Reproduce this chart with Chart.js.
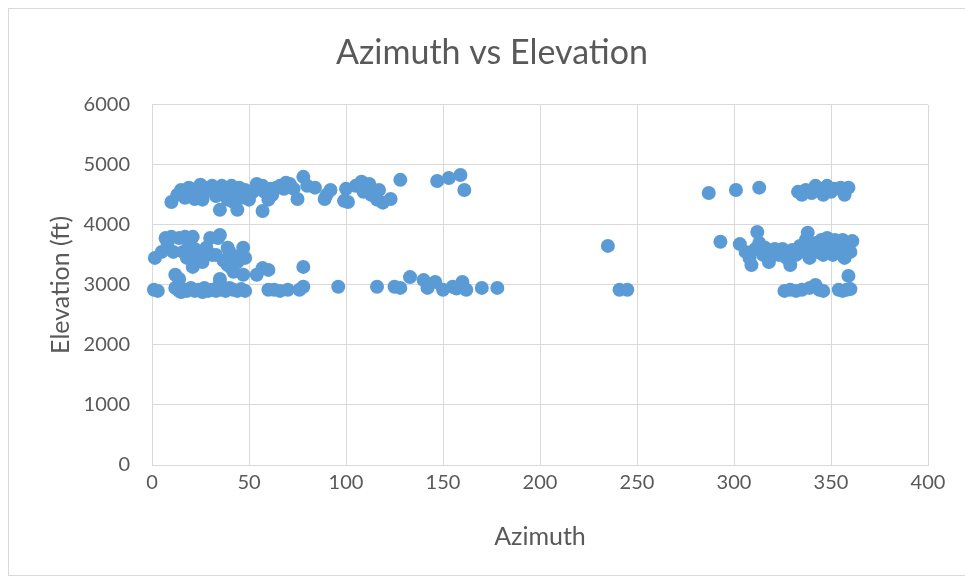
<!DOCTYPE html>
<html>
<head>
<meta charset="utf-8">
<script src="https://cdn.jsdelivr.net/npm/chart.js@4.4.0/dist/chart.umd.min.js"></script>
<style>
  html, body { margin: 0; padding: 0; background: #fff; overflow: hidden; }
  #frame { position: absolute; left: 8px; top: 8px; width: 966px; height: 566px; border: 1px solid #d9d9d9; }
</style>
</head>
<body>
<div id="frame"><canvas id="myChart" width="966" height="566"></canvas></div>
<script>
// azimuth (deg) and elevation (ft)
var azimuth = [
	// upper band, left
	10, 13, 15, 17, 19, 20, 22, 23, 25, 26, 27, 29, 31, 33, 34, 35, 36, 38, 39, 41,
	42, 43, 44, 45, 46, 48, 49, 50, 52, 54, 55, 57, 57, 58, 60, 61, 62, 64, 66, 68,
	69, 71, 73, 75, 78, 80, 84, 89, 90, 92, 99, 100, 101, 105, 108, 109, 112, 113, 116, 117,
	119, 123, 128, 147, 153, 159, 161,
	// middle band, left
	1.5, 5, 7, 8, 10, 11, 12, 14, 14, 16, 17, 18, 19, 21, 21, 22, 23, 25, 26, 28,
	30, 31, 33, 34, 35, 35, 37, 39, 39, 40, 41, 42, 43, 44, 46, 47, 47, 48, 54, 57,
	60, 78,
	// lower band, left
	1, 3, 12, 14, 15, 17, 18, 20, 22, 24, 26, 27, 29, 31, 33, 35, 36, 38, 40, 42,
	44, 46, 48, 60, 63, 66, 70, 76, 78, 96, 116, 125, 128, 133, 140, 142, 146, 150, 155, 157,
	160, 162, 170, 178,
	// middle
	235, 241, 245,
	// upper band, right
	287, 301, 313, 333, 335, 337, 340, 342, 344, 346, 348, 350, 352, 355, 357, 359,
	// middle band, right
	293, 303, 306, 308, 309, 311, 312, 313, 315, 316, 318, 319, 321, 323, 325, 327, 329, 330, 332, 334,
	336, 337, 338, 339, 340, 342, 343, 345, 346, 347, 348, 350, 351, 352, 354, 355, 356, 357, 358, 359,
	360, 361,
	// lower band, right
	326, 329, 332, 335, 339, 342, 344, 346, 354, 356, 358, 360, 359
];

var elevation = [
	4380, 4500, 4580, 4450, 4620, 4500, 4430, 4600, 4670, 4420, 4550, 4620, 4650, 4480, 4580, 4250, 4650, 4550, 4420, 4650,
	4380, 4500, 4250, 4620, 4450, 4580, 4500, 4420, 4550, 4680, 4600, 4230, 4650, 4550, 4420, 4600, 4500, 4620, 4650, 4600,
	4700, 4680, 4600, 4430, 4800, 4650, 4620, 4430, 4500, 4580, 4400, 4600, 4380, 4650, 4720, 4550, 4680, 4500, 4420, 4580,
	4370, 4430, 4750, 4730, 4780, 4830, 4580,

	3450, 3550, 3780, 3700, 3800, 3550, 3170, 3780, 3100, 3550, 3800, 3450, 3700, 3800, 3300, 3600, 3500, 3550, 3380, 3620,
	3780, 3500, 3500, 3780, 3830, 3100, 3400, 3620, 3330, 3550, 3280, 3220, 3450, 3380, 3500, 3620, 3170, 3450, 3170, 3280,
	3250, 3300,

	2920, 2900, 2950, 2900, 2880, 2920, 2900, 2950, 2900, 2920, 2880, 2950, 2900, 2920, 2900, 3030, 2920, 2900, 2950, 2920,
	2900, 2930, 2900, 2920, 2920, 2900, 2920, 2920, 2970, 2970, 2970, 2970, 2950, 3130, 3080, 2950, 3050, 2920, 2970, 2940,
	3050, 2920, 2950, 2950,

	3650, 2920, 2920,

	4530, 4580, 4620, 4550, 4500, 4580, 4530, 4650, 4600, 4500, 4650, 4550, 4600, 4620, 4500, 4620,

	3720, 3680, 3550, 3450, 3330, 3600, 3880, 3700, 3500, 3620, 3380, 3550, 3600, 3500, 3600, 3450, 3330, 3580, 3500, 3650,
	3550, 3750, 3870, 3450, 3600, 3700, 3550, 3750, 3500, 3650, 3780, 3600, 3500, 3750, 3650, 3550, 3750, 3450, 3620, 3700,
	3550, 3730,

	2900, 2920, 2900, 2920, 2950, 3000, 2920, 2900, 2920, 2900, 2920, 2930, 3150
];

var xTicksMax = 400;
var yTicksMax = 6000;

var points = azimuth.map((az, i) => {
	return { x: az, y: elevation[i] };
});

var textColor = '#595959';
var gridColor = '#d9d9d9';
var fontName = 'Lato';

var ctx = document.getElementById("myChart").getContext('2d');
var myChart = new Chart(ctx, {
	type: 'scatter',
	data: {
		datasets: [{
			label: 'Elevation',
			data: points,
			backgroundColor: '#5b9bd5',
			borderColor: '#5b9bd5',
			pointRadius: 7,
			pointBorderWidth: 0,
			clip: false
		}]
	},
	options: {
		responsive: false,
		animation: false,
		// equal side padding keeps the title centred on the whole frame
		layout: { padding: { left: 47, right: 47, top: 0, bottom: 0 } },
		plugins: {
			legend: { display: false },
			tooltip: { enabled: false },
			title: {
				display: true,
				text: 'Azimuth vs Elevation',
				color: textColor,
				font: { family: fontName, size: 34, weight: 'normal' },
				padding: { top: 24, bottom: 31 }
			}
		},
		scales: {
			x: {
				type: 'linear',
				min: 0,
				max: xTicksMax,
				afterFit: (scale) => { scale.height = 110; },
				ticks: {
					stepSize: 50,
					color: textColor,
					padding: 6,
					maxRotation: 0,
					font: { family: fontName, size: 20 },
					callback: (value) => String(value)
				},
				grid: { color: gridColor, drawTicks: false },
				border: { color: gridColor },
				title: {
					display: true,
					text: 'Azimuth',
					color: textColor,
					font: { family: fontName, size: 25 },
					padding: { top: 0, bottom: 23 }
				}
			},
			y: {
				min: 0,
				max: yTicksMax,
				afterFit: (scale) => { scale.width = 96; },
				ticks: {
					stepSize: 1000,
					color: textColor,
					padding: 22,
					font: { family: fontName, size: 20 },
					callback: (value) => String(value)
				},
				grid: { color: gridColor, drawTicks: false },
				border: { color: gridColor },
				title: {
					display: true,
					text: 'Elevation (ft)',
					color: textColor,
					font: { family: fontName, size: 25 },
					padding: { top: -10, bottom: 0 }
				}
			}
		}
	}
});
</script>
</body>
</html>
